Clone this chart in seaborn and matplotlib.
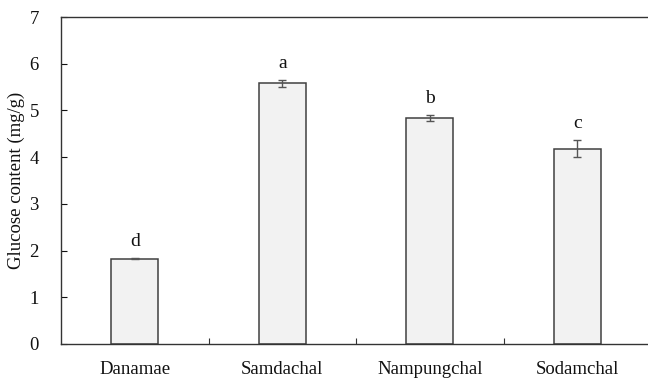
import numpy as np
import pandas as pd
import matplotlib
matplotlib.use("Agg")
import matplotlib.pyplot as plt
import seaborn as sns

# --- Data ---
cultivars = ["Danamae", "Samdachal", "Nampungchal", "Sodamchal"]
glucose = [1.83, 5.58, 4.84, 4.18]
glucose_sd = [0.02, 0.07, 0.06, 0.18]
letters = ["d", "a", "b", "c"]

df = pd.DataFrame({"cultivar": cultivars, "glucose": glucose, "sd": glucose_sd})

sns.set_theme(style="white")
plt.rcParams["font.family"] = ["Liberation Serif", "DejaVu Serif"]

fig = plt.figure(figsize=(6.48, 3.79), dpi=100)
ax = fig.add_axes([61 / 648, 35 / 379, 590 / 648, 327 / 379])

sns.barplot(data=df, x="cultivar", y="glucose", ax=ax, width=0.32,
            color="#f2f2f2", edgecolor="#404040", linewidth=1.1,
            errorbar=None, saturation=1)
ax.errorbar(np.arange(len(df)), df["glucose"], yerr=df["sd"], fmt="none",
            ecolor="#555555", elinewidth=1.0, capsize=3.2, capthick=1.0)

for i, (m, s, lab) in enumerate(zip(glucose, glucose_sd, letters)):
    ax.text(i, m + s + 0.17, lab, ha="center", va="bottom", fontsize=14,
            color="#111111")

ax.set_xlim(-0.5, 3.5)
ax.set_ylim(0, 7)
ax.set_yticks(range(0, 8))
ax.set_xlabel("")
ax.set_ylabel("Glucose content (mg/g)", fontsize=13.5, labelpad=3, color="#111111")

ax.tick_params(axis="y", direction="in", length=4, width=0.8, pad=16,
               labelsize=13.5, colors="#111111", left=True)
ax.tick_params(axis="x", which="major", length=0, pad=12, labelsize=13.5,
               colors="#111111")
ax.set_xticks([0.5, 1.5, 2.5], minor=True)
ax.tick_params(axis="x", which="minor", direction="in", length=4, width=0.8,
               bottom=True, color="#333333")

for side in ["left", "bottom", "top", "right"]:
    ax.spines[side].set_visible(True)
    ax.spines[side].set_color("#333333")
    ax.spines[side].set_linewidth(1.0)

fig.savefig("out.png", dpi=100)
